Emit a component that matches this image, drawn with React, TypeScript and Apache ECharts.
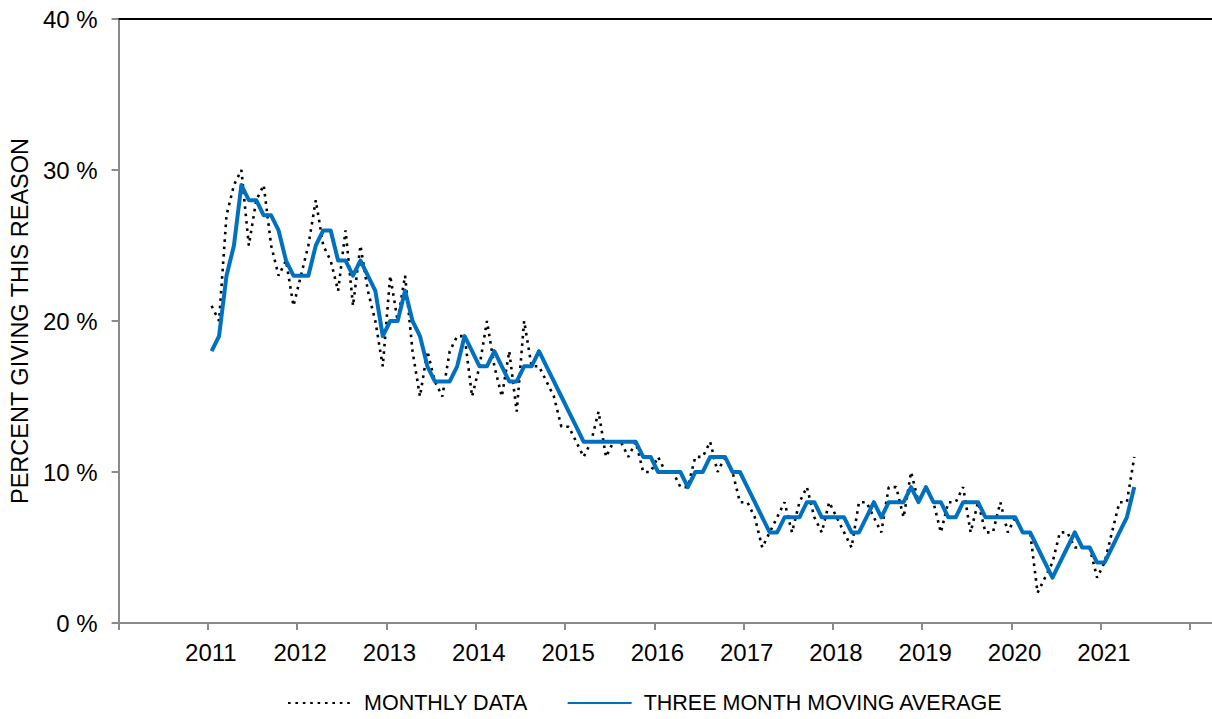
import React, { useEffect, useRef } from 'react';
import * as echarts from 'echarts';

const START_YEAR = 2011;

// Monthly data, Jan 2011 .. May 2021 (percent)
const monthlyData: number[] = [
  21, 20, 27, 29, 30, 25, 28, 29, 25, 23, 24, 21, // 2011
  23, 25, 28, 25, 24, 22, 26, 21, 25, 22, 20, 17, // 2012
  23, 20, 23, 18, 15, 18, 16, 15, 18, 19, 19, 15, // 2013
  17, 20, 17, 15, 18, 14, 20, 17, 17, 16, 15, 13, // 2014
  13, 12, 11, 12, 14, 11, 12, 12, 11, 12, 10, 10, // 2015
  11, 10, 10, 9, 9, 11, 11, 12, 10, 11, 10, 8, // 2016
  8, 7, 5, 6, 7, 8, 6, 8, 9, 7, 6, 8, // 2017
  7, 6, 5, 8, 8, 7, 6, 9, 9, 7, 10, 8, // 2018
  9, 8, 6, 8, 8, 9, 6, 8, 6, 6, 8, 6, // 2019
  7, 6, 6, 2, 3, 4, 6, 6, 5, 5, 5, 3, // 2020
  4, 6, 8, 8, 11, // 2021
];

// Three month moving average (percent)
const movingAverage: number[] = [
  18, 19, 23, 25, 29, 28, 28, 27, 27, 26, 24, 23, // 2011
  23, 23, 25, 26, 26, 24, 24, 23, 24, 23, 22, 19, // 2012
  20, 20, 22, 20, 19, 17, 16, 16, 16, 17, 19, 18, // 2013
  17, 17, 18, 17, 16, 16, 17, 17, 18, 17, 16, 15, // 2014
  14, 13, 12, 12, 12, 12, 12, 12, 12, 12, 11, 11, // 2015
  10, 10, 10, 10, 9, 10, 10, 11, 11, 11, 10, 10, // 2016
  9, 8, 7, 6, 6, 7, 7, 7, 8, 8, 7, 7, // 2017
  7, 7, 6, 6, 7, 8, 7, 8, 8, 8, 9, 8, // 2018
  9, 8, 8, 7, 7, 8, 8, 8, 7, 7, 7, 7, // 2019
  7, 6, 6, 5, 4, 3, 4, 5, 6, 5, 5, 4, // 2020
  4, 5, 6, 7, 9, // 2021
];

const yearLabels: string[] = ['2011', '2012', '2013', '2014', '2015', '2016', '2017', '2018', '2019', '2020', '2021'];
const yTickValues: number[] = [0, 10, 20, 30, 40];

const SERIES_MONTHLY = 'MONTHLY DATA';
const SERIES_AVG = 'THREE MONTH MOVING AVERAGE';
const Y_NAME = 'PERCENT GIVING THIS REASON';

const toPoints = (arr: number[]) => arr.map((v, i) => [START_YEAR + (i + 0.5) / 12, v]);

const FONT = '"Liberation Sans", Arial, Helvetica, sans-serif';
const AXIS_GREY = '#8a8a8a';

const CHART_W = 1240;
const CHART_H = 719;

export default function App() {
  const ref = useRef<HTMLDivElement>(null);

  useEffect(() => {
    if (!ref.current) return;
    const chart = echarts.init(ref.current, undefined, { renderer: 'svg' });
    const gridLeft = 118;
    const pxPerYear = 89.58;
    const xMin = 2010;
    const xMax = xMin + (CHART_W - gridLeft) / pxPerYear;
    chart.setOption({
      animation: false,
      textStyle: { fontFamily: FONT },
      grid: { left: gridLeft, right: 0, top: 19, bottom: 96, containLabel: false },
      xAxis: [
        {
          type: 'value',
          min: xMin,
          max: xMax,
          interval: 1,
          axisLine: { show: true, onZero: false, lineStyle: { color: AXIS_GREY, width: 2 } },
          axisTick: { show: true, length: 7, lineStyle: { color: AXIS_GREY, width: 2 } },
          axisLabel: {
            color: '#000',
            fontSize: 24,
            fontFamily: FONT,
            margin: 17,
            padding: [0, 0, 0, 6],
            showMinLabel: true,
            showMaxLabel: true,
            formatter: (v: number) => {
              const s = String(Math.round(v));
              return Math.abs(v - Math.round(v)) < 1e-6 && yearLabels.includes(s) ? s : '';
            },
          },
          splitLine: { show: false },
        },
        {
          type: 'value',
          position: 'top',
          min: xMin,
          max: xMax,
          axisLine: { show: true, onZero: false, lineStyle: { color: '#000', width: 2 } },
          axisTick: { show: false },
          axisLabel: { show: false },
          splitLine: { show: false },
        },
      ],
      yAxis: {
        type: 'value',
        min: yTickValues[0],
        max: yTickValues[yTickValues.length - 1],
        interval: 10,
        name: Y_NAME,
        nameLocation: 'middle',
        nameGap: 86,
        nameTextStyle: { color: '#000', fontSize: 23.5, fontFamily: FONT },
        axisLine: { show: true, onZero: false, lineStyle: { color: AXIS_GREY, width: 2 } },
        axisTick: { show: true, length: 7, lineStyle: { color: AXIS_GREY, width: 2 } },
        axisLabel: { color: '#000', fontSize: 24, fontFamily: FONT, margin: 21, formatter: '{value} %' },
        splitLine: { show: false },
      },
      legend: {
        left: 287,
        top: 692,
        padding: 0,
        itemWidth: 64,
        itemHeight: 14,
        itemGap: 39,
        itemStyle: { opacity: 0 },
        textStyle: { color: '#000', fontSize: 21.5, fontFamily: FONT, padding: [0, 0, 0, 7] },
        data: [SERIES_MONTHLY, SERIES_AVG],
      },
      series: [
        {
          name: SERIES_MONTHLY,
          type: 'line',
          xAxisIndex: 0,
          symbol: 'none',
          data: toPoints(monthlyData),
          itemStyle: { color: '#000' },
          lineStyle: { color: '#000', width: 2.6, type: [2.6, 4.8] },
          z: 2,
        },
        {
          name: SERIES_AVG,
          type: 'line',
          xAxisIndex: 0,
          symbol: 'none',
          data: toPoints(movingAverage),
          itemStyle: { color: '#0070C0' },
          lineStyle: { color: '#0070C0', width: 4, join: 'round' },
          z: 3,
        },
      ],
    });
    return () => chart.dispose();
  }, []);

  return (
    <div style={{ position: 'absolute', left: 0, top: 0, width: 1212, height: 719, overflow: 'hidden', background: '#fff' }}>
      <div ref={ref} style={{ width: CHART_W, height: CHART_H }} />
    </div>
  );
}
